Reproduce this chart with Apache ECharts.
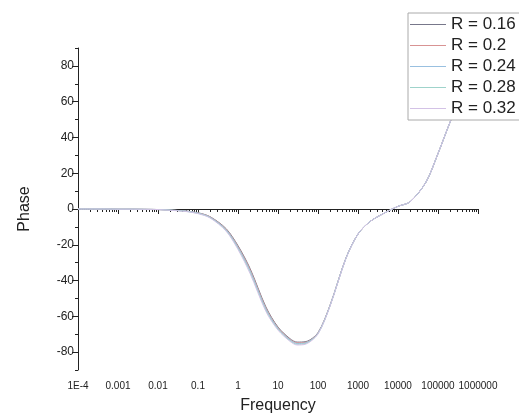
<!DOCTYPE html>
<html>
<head>
<meta charset="utf-8">
<script src="https://cdn.jsdelivr.net/npm/echarts@6/dist/echarts.min.js"></script>
<style>html,body{margin:0;padding:0;background:#fff;}#c{width:519px;height:419px;}</style>
</head>
<body>
<div id="c"></div>
<script>
const freq = [1e-4, 2e-4, 5e-4, 1e-3, 2e-3, 5e-3, 0.01, 0.02, 0.05, 0.1,
  0.2, 0.5, 1, 2, 5, 10, 20, 30, 50, 100, 200,
  500, 1000, 2000, 5000, 1e4, 2e4, 5e4, 1e5, 2e5, 5e5, 1e6];
const seriesNames = ['R = 0.16', 'R = 0.2', 'R = 0.24', 'R = 0.28', 'R = 0.32'];
const phaseR016 = [0,0,0,-0.1,-0.1,-0.2,-0.3,-0.6,-1.1,-2.1,-4.3,-10.9,-20.5,-33.2,-54.8,-66,-72.5,-74.4,-74.1,-69.1,-53.8,-27.4,-14,-7,-1.8,1.5,4,15,31,48.5,70,83];
const phaseR020 = [0,0,0,-0.1,-0.1,-0.2,-0.3,-0.6,-1.2,-2.2,-4.4,-11.2,-21,-33.8,-55.4,-66.4,-72.9,-74.8,-74.5,-69.3,-53.9,-27.5,-14,-7,-1.8,1.5,4,15,31,48.5,70,83];
const phaseR024 = [0,0,0,-0.1,-0.1,-0.2,-0.3,-0.6,-1.2,-2.3,-4.6,-11.5,-21.5,-34.5,-56,-66.8,-73.2,-75.2,-74.8,-69.5,-54,-27.5,-14,-7,-1.8,1.5,4,15,31,48.5,70,83];
const phaseR028 = [0,0,0,-0.1,-0.1,-0.2,-0.3,-0.6,-1.3,-2.4,-4.8,-11.9,-22,-35.2,-56.6,-67.2,-73.6,-75.6,-75.1,-69.7,-54.1,-27.6,-14,-7,-1.8,1.5,4,15,31,48.5,70,83];
const phaseR032 = [0,0,0,-0.1,-0.1,-0.2,-0.3,-0.7,-1.4,-2.6,-5,-12.3,-22.6,-36,-57.3,-67.7,-74,-76,-75.5,-69.9,-54.3,-27.7,-14,-7,-1.8,1.5,4,15,31,48.5,70,83];
const xTickValues = [1e-4, 1e-3, 1e-2, 1e-1, 1, 10, 100, 1000, 1e4, 1e5, 1e6];
const xTickLabels = ['1E-4', '0.001', '0.01', '0.1', '1', '10', '100', '1000', '10000', '100000', '1000000'];
const xMinorTicks = [];
for (let d = -4; d < 6; d++) { for (let m = 2; m <= 9; m++) xMinorTicks.push(+(m * Math.pow(10, d)).toPrecision(6)); }
const yTickValues = [-80, -60, -40, -20, 0, 20, 40, 60, 80];
const yMinorTicks = [-90, -70, -50, -30, -10, 10, 30, 50, 70, 90];
const colors = ['#77778a', '#d89393', '#99c0e0', '#9fd3cb', '#d3c2e6'];

const allPhase = [phaseR016, phaseR020, phaseR024, phaseR028, phaseR032];
const font = 'Liberation Sans, Arial, sans-serif';
const chart = echarts.init(document.getElementById('c'), null, {renderer: 'canvas'});
chart.setOption({
  backgroundColor: '#fff',
  animation: false,
  grid: {left: 78, right: 41, top: 48, bottom: 48, containLabel: false},
  legend: {
    orient: 'vertical', left: 408, top: 13,
    data: seriesNames,
    icon: 'rect', itemWidth: 36, itemHeight: 1, itemGap: 4,
    padding: [3, 8, 3, 2],
    backgroundColor: '#fff', borderColor: '#aaa', borderWidth: 1,
    textStyle: {fontFamily: font, fontSize: 17, color: '#222'}
  },
  xAxis: [{
    type: 'log', logBase: 10, min: 1e-4, max: 1e6,
    name: 'Frequency', nameLocation: 'middle', nameGap: 28,
    nameTextStyle: {fontFamily: font, fontSize: 16, color: '#222'},
    axisLine: {lineStyle: {color: '#222', width: 1}},
    axisTick: {customValues: xTickValues, length: 5, lineStyle: {color: '#222'}},
    axisLabel: {customValues: xTickValues, fontFamily: font, fontSize: 10, color: '#222', margin: 11,
      formatter: function (v) { return xTickLabels[Math.round(Math.log10(v)) + 4]; }},
    splitLine: {show: false}
  }, {
    type: 'log', logBase: 10, min: 1e-4, max: 1e6, position: 'bottom',
    axisLine: {show: false},
    axisTick: {customValues: xMinorTicks, length: 3, lineStyle: {color: '#222'}},
    axisLabel: {show: false},
    splitLine: {show: false}
  }],
  yAxis: [{
    type: 'value', min: -90, max: 90,
    name: 'Phase', nameLocation: 'middle', nameGap: 45, nameRotate: 90,
    nameTextStyle: {fontFamily: font, fontSize: 16, color: '#222'},
    axisLine: {show: true, lineStyle: {color: '#222', width: 1}},
    axisTick: {show: true, customValues: yTickValues, length: 6, lineStyle: {color: '#222'}},
    axisLabel: {customValues: yTickValues, fontFamily: font, fontSize: 12, color: '#222', margin: 4},
    splitLine: {show: false}
  }, {
    type: 'value', min: -90, max: 90, position: 'left',
    axisLine: {show: false},
    axisTick: {show: true, customValues: yMinorTicks, length: 3, lineStyle: {color: '#222'}},
    axisLabel: {show: false},
    splitLine: {show: false}
  }],
  series: seriesNames.map(function (name, i) {
    return {
      name: name, type: 'line', xAxisIndex: 0, yAxisIndex: 0,
      smooth: 0.3, symbol: 'none',
      lineStyle: {width: 1, color: colors[i]},
      itemStyle: {color: colors[i]},
      data: freq.map(function (f, j) { return [f, allPhase[i][j]]; })
    };
  })
});
</script>
</body>
</html>
